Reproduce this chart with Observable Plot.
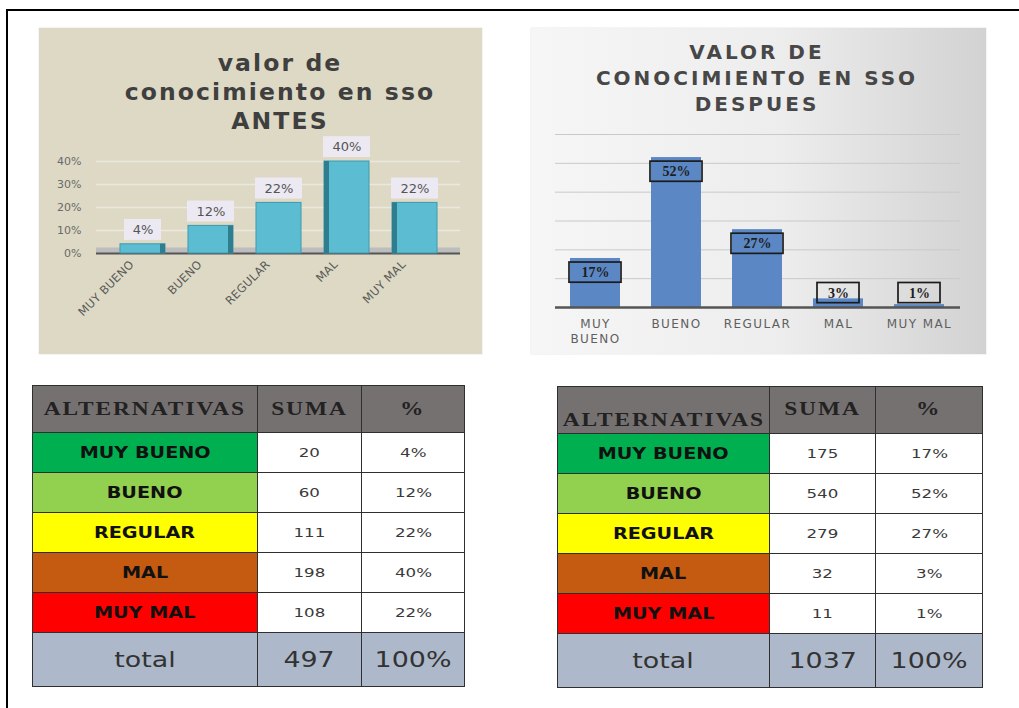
<!DOCTYPE html>
<html>
<head>
<meta charset="utf-8">
<script src="https://cdn.jsdelivr.net/npm/d3@7"></script>
<script src="https://cdn.jsdelivr.net/npm/@observablehq/plot@0.6"></script>
<style>
  html, body { margin:0; padding:0; background:#fff; }
  #page { position:relative; width:1019px; height:708px; overflow:hidden; background:#fff; }
  .bt { position:absolute; left:7px; top:9px; right:0; height:2px; background:#000; }
  .bl { position:absolute; left:6px; top:9px; width:2px; bottom:0; background:#000; }
  .panel { position:absolute; }
  #p1 { left:39px; top:28px; width:443px; height:326px; background:#ddd9c4; box-shadow:0 0 1px #bbb; }
  #p2 { left:531px; top:28px; width:455px; height:326px; background:linear-gradient(to right,#f6f6f6 0%,#ededed 55%,#d2d2d2 100%); box-shadow:0 0 1px #bbb; }
  .chart { position:absolute; left:0; top:0; }
  .title { position:absolute; text-align:center; font-family:"DejaVu Sans",sans-serif; font-weight:bold; white-space:nowrap; }
  #t1 { left:41px; width:400px; top:21px; font-size:23.5px; line-height:29px; color:#3f3f3f; letter-spacing:2.1px; }
  #t2 { left:26px; width:400px; top:11px; font-size:20px; line-height:26px; color:#474747; letter-spacing:3px; }
  .c2 g[aria-label="x-axis tick label"] text { letter-spacing:1.4px; }
  .c1 g[aria-label="x-axis tick label"] text { letter-spacing:0.3px; }
  table { position:absolute; border-collapse:collapse; table-layout:fixed; }
  td { border:1.5px solid #2f2f2f; text-align:center; padding:0; overflow:hidden; white-space:nowrap; }
  .hd { background:#767171; font-family:"Liberation Serif",serif; font-weight:bold; color:#222; font-size:18px; }
  .lab { font-family:"DejaVu Sans",sans-serif; font-weight:bold; font-size:15px; color:#111; }
  .val { background:#fff; font-family:"DejaVu Sans",sans-serif; font-size:13px; color:#3a3a3a; }
  .tot { background:#adb9ca; font-family:"DejaVu Sans",sans-serif; font-size:21px; color:#333; }
  .s { display:inline-block; transform:scaleX(1.28); }
  .sh { display:inline-block; transform:scaleX(1.3); letter-spacing:1.5px; }
</style>
</head>
<body>
<div id="page">
  <div class="bt"></div><div class="bl"></div>
  <div class="panel" id="p1"><div class="title" id="t1">valor de<br>conocimiento en sso<br>ANTES</div></div>
  <div class="panel" id="p2"><div class="title" id="t2">VALOR DE<br>CONOCIMIENTO EN SSO<br>DESPUES</div></div>
</div>
<script>
// ---------- data ----------
const categories = ["MUY BUENO", "BUENO", "REGULAR", "MAL", "MUY MAL"];
const antesPct = [0.04, 0.12, 0.22, 0.40, 0.22];
const despuesPct = [0.17, 0.52, 0.27, 0.03, 0.01];
const antesSuma = [20, 60, 111, 198, 108];
const despuesSuma = [175, 540, 279, 32, 11];
const antesTotal = 497;
const despuesTotal = 1037;
const rowColors = ["#00b050", "#92d050", "#ffff00", "#c55a11", "#ff0000"];
const antesTicks = [0, 0.1, 0.2, 0.3, 0.4];
const despuesTicks = [0, 0.1, 0.2, 0.3, 0.4, 0.5, 0.6];
const headers = ["ALTERNATIVAS", "SUMA", "%"];

const pct = d3.format(".0%");
const antes = categories.map((c, i) => ({cat: c, v: antesPct[i], i}));
const despues = categories.map((c, i) => ({cat: c, v: despuesPct[i], i}));

// ---------- chart 1 (ANTES) ----------
const short1 = d => pct(d.v).length < 3;
const c1 = Plot.plot({
  width: 443, height: 326,
  marginLeft: 57, marginRight: 22, marginTop: 133, marginBottom: 101,
  style: {background: "transparent", fontFamily: "DejaVu Sans, sans-serif", overflow: "visible"},
  x: {domain: categories, padding: 0.34, label: null},
  y: {domain: [0, 0.4], label: null},
  marks: [
    Plot.gridY(antesTicks.slice(1), {stroke: "#ebe9df", strokeOpacity: 1, strokeWidth: 1.5}),
    Plot.axisY(antesTicks, {tickFormat: pct, tickSize: 0, tickPadding: 15, fontSize: 11, fill: "#6a6a6a"}),
    Plot.ruleY([0], {stroke: "#bdbdbd", strokeWidth: 6, dy: -3}),
    Plot.ruleY([0], {stroke: "#555", strokeWidth: 2}),
    Plot.barY(antes, {x: "cat", y: "v", fill: "#5cbcd2", stroke: "#3b9aae", strokeWidth: 1}),
    Plot.barY(antes.filter(d => d.i < 2), {x: "cat", y: "v", fill: "#2f7e90", insetLeft: 40}),
    Plot.barY(antes.filter(d => d.i > 2), {x: "cat", y: "v", fill: "#2f7e90", insetRight: 40}),
    Plot.barY(antes.filter(d => !short1(d)), {x: "cat", y1: d => d.v + 0.017, y2: d => d.v + 0.108, fill: "#ece9f3", insetLeft: -1, insetRight: -1}),
    Plot.barY(antes.filter(short1), {x: "cat", y1: d => d.v + 0.017, y2: d => d.v + 0.108, fill: "#ece9f3", insetLeft: 4, insetRight: 4}),
    Plot.text(antes, {x: "cat", y: d => d.v + 0.0625, text: d => pct(d.v), fill: "#555", fontSize: 13}),
    Plot.axisX({tickSize: 0, tickPadding: 9, tickRotate: -45, fontSize: 11.5, fill: "#5a5a5a", dx: -11})
  ]
});
c1.classList.add("chart", "c1");
document.getElementById("p1").prepend(c1);

// ---------- chart 2 (DESPUES) ----------
const lab2 = d => Math.max(d.v - 0.049, 0.05);
const short2 = d => pct(d.v).length < 3;
const c2 = Plot.plot({
  width: 455, height: 326,
  marginLeft: 24, marginRight: 26, marginTop: 106, marginBottom: 47,
  style: {background: "transparent", fontFamily: "DejaVu Sans, sans-serif", overflow: "visible"},
  x: {domain: categories, paddingInner: 0.38, paddingOuter: 0.19, label: null},
  y: {domain: [0, 0.6], label: null, axis: null},
  marks: [
    Plot.gridY(despuesTicks.slice(1), {stroke: "#c9c9c9", strokeOpacity: 1}),
    Plot.barY(despues, {x: "cat", y: "v", fill: "#5b87c4"}),
    Plot.ruleY([0], {stroke: "#555", strokeWidth: 2.5}),
    Plot.barY(despues.filter(d => !short2(d)), {x: "cat", y1: d => lab2(d) - 0.035, y2: d => lab2(d) + 0.035, fill: "none", stroke: "#1b1b1b", strokeWidth: 1.7, insetLeft: -1, insetRight: -1}),
    Plot.barY(despues.filter(short2), {x: "cat", y1: d => lab2(d) - 0.035, y2: d => lab2(d) + 0.035, fill: "none", stroke: "#1b1b1b", strokeWidth: 1.7, insetLeft: 4, insetRight: 4}),
    Plot.text(despues, {x: "cat", y: lab2, text: d => pct(d.v), fill: "#1e1e1e", fontSize: 14, fontWeight: "bold", fontFamily: "Liberation Serif, serif"}),
    Plot.axisX({tickSize: 0, tickPadding: 10, fontSize: 12, fill: "#5f5f5f", lineHeight: 1.25, tickFormat: d => d === "MUY BUENO" ? "MUY\nBUENO" : d})
  ]
});
c2.classList.add("chart", "c2");
document.getElementById("p2").prepend(c2);

// ---------- tables ----------
function makeTable(left, top, widths, suma, pcts, total, hdrBottom) {
  const t = document.createElement("table");
  t.style.left = left + "px"; t.style.top = top + "px";
  t.style.width = d3.sum(widths) + "px";
  const cg = document.createElement("colgroup");
  widths.forEach(w => { const c = document.createElement("col"); c.style.width = w + "px"; cg.appendChild(c); });
  t.appendChild(cg);
  const hr = t.insertRow(); hr.style.height = "47px";
  headers.forEach((h, j) => {
    const td = hr.insertCell(); td.className = "hd";
    if (hdrBottom) td.style.verticalAlign = j === 0 ? "bottom" : "top";
    if (hdrBottom) td.style.padding = j === 0 ? "0 0 2px 0" : "12px 0 0 0";
    td.innerHTML = `<span class="sh">${h}</span>`;
  });
  categories.forEach((c, i) => {
    const r = t.insertRow(); r.style.height = "40px";
    const a = r.insertCell(); a.className = "lab"; a.style.background = rowColors[i];
    a.innerHTML = `<span class="s">${c}</span>`;
    const b = r.insertCell(); b.className = "val"; b.innerHTML = `<span class="s">${suma[i]}</span>`;
    const p = r.insertCell(); p.className = "val"; p.innerHTML = `<span class="s">${pct(pcts[i])}</span>`;
  });
  const tr = t.insertRow(); tr.style.height = "54px";
  ["total", String(total), "100%"].forEach(s => {
    const td = tr.insertCell(); td.className = "tot"; td.innerHTML = `<span class="s">${s}</span>`;
  });
  document.getElementById("page").appendChild(t);
}
makeTable(32, 385, [225, 104, 103], antesSuma, antesPct, antesTotal, false);
makeTable(557, 386, [212, 106, 107], despuesSuma, despuesPct, despuesTotal, true);
</script>
</body>
</html>
